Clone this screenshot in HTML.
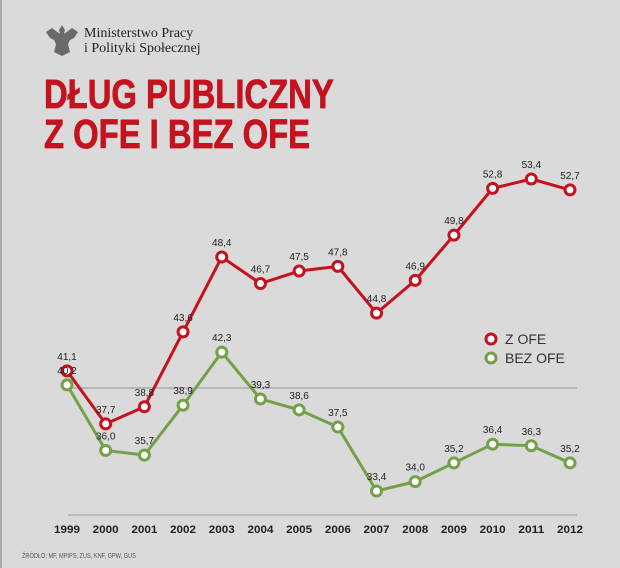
<!DOCTYPE html>
<html><head><meta charset="utf-8">
<style>
html,body{margin:0;padding:0}
body{width:620px;height:568px;background:#dadada;position:relative;overflow:hidden;font-family:"Liberation Sans",sans-serif}
.t{position:absolute;left:44px;color:#c4121f;font-weight:bold;font-size:41px;line-height:41px;transform:scaleX(0.8);transform-origin:left top;white-space:nowrap;-webkit-text-stroke:0.8px #c4121f}
</style></head><body>
<div style="position:absolute;left:0;top:0;width:2px;height:568px;background:#aaa"></div>
<svg style="position:absolute;left:44px;top:22px" width="36" height="36" viewBox="0 0 36 36">
<path d="M18 3 L21 8 L20 12 L28 6 L34 10 L30 16 L26 18 L24 22 L26 30 L18 34 L10 30 L12 22 L10 18 L6 16 L2 10 L8 6 L16 12 L15 8 Z" fill="#6a6a6a"/></svg>
<div style="position:absolute;left:84px;top:26px;font-family:'Liberation Serif',serif;font-size:14px;line-height:15px;color:#222">Ministerstwo Pracy<br>i Polityki Społecznej</div>
<div class="t" style="top:74px">DŁUG PUBLICZNY</div>
<div class="t" style="top:114px">Z OFE I BEZ OFE</div>
<svg id="c" style="position:absolute;left:0;top:0" width="620" height="568"></svg>
<div style="position:absolute;left:22px;top:553px;font-size:7px;color:#555;transform:scaleX(0.8);transform-origin:left top">ŹRÓDŁO: MF, MPIPS, ZUS, KNF, GPW, GUS</div>
<script>
const years=["1999","2000","2001","2002","2003","2004","2005","2006","2007","2008","2009","2010","2011","2012"];
const zOfe=[41.1,37.7,38.8,43.6,48.4,46.7,47.5,47.8,44.8,46.9,49.8,52.8,53.4,52.7];
const bezOfe=[40.2,36.0,35.7,38.9,42.3,39.3,38.6,37.5,33.4,34.0,35.2,36.4,36.3,35.2];
const seriesNames=["Z OFE","BEZ OFE"];
const NS="http://www.w3.org/2000/svg";
const svg=document.getElementById('c');
const x=i=>67+i*(570-67)/(years.length-1);
const y=v=>491-(v-33.4)*15.6;
function mk(tag,at,parent){const e=document.createElementNS(NS,tag);for(const k in at)e.setAttribute(k,at[k]);(parent||svg).appendChild(e);return e;}
let g=mk('line',{x1:68,x2:577,y1:388,y2:388,stroke:'#aaa','stroke-width':1.5});


let b=mk('line',{x1:68,x2:577,y1:515,y2:515,stroke:'#bbb','stroke-width':2});


years.forEach((yr,i)=>{
 const t=mk('text',{x:x(i),y:533,'text-anchor':'middle','font-size':11,'font-weight':'bold',fill:'#222',textLength:26,lengthAdjust:'spacingAndGlyphs'});
 t.textContent=yr;
 
 
});
function series(vals,color,name){
 const p=mk('polyline',{points:vals.map((v,i)=>x(i)+','+y(v)).join(' '),fill:'none',stroke:color,'stroke-width':3,'stroke-linejoin':'round'});
 
 
 vals.forEach((v,i)=>{
  const c=mk('circle',{cx:x(i),cy:y(v),r:5,fill:'#fff',stroke:color,'stroke-width':3});
  
  
  const t=mk('text',{x:x(i),y:y(v)-11,'text-anchor':'middle','font-size':10,fill:'#222'});
  t.textContent=v.toFixed(1).replace('.',',');
  
  
 });
}
series(zOfe,'#c4121f','z-ofe');
series(bezOfe,'#74a047','bez-ofe');
[['#c4121f',339],['#74a047',358]].forEach((d,k)=>{
 const c=mk('circle',{cx:491,cy:d[1],r:5,fill:'#fff',stroke:d[0],'stroke-width':3});
 
 
 const t=mk('text',{x:505,y:d[1]+5,'font-size':14,fill:'#333'});
 t.textContent=seriesNames[k];
 
 
});
</script>
</body></html>
